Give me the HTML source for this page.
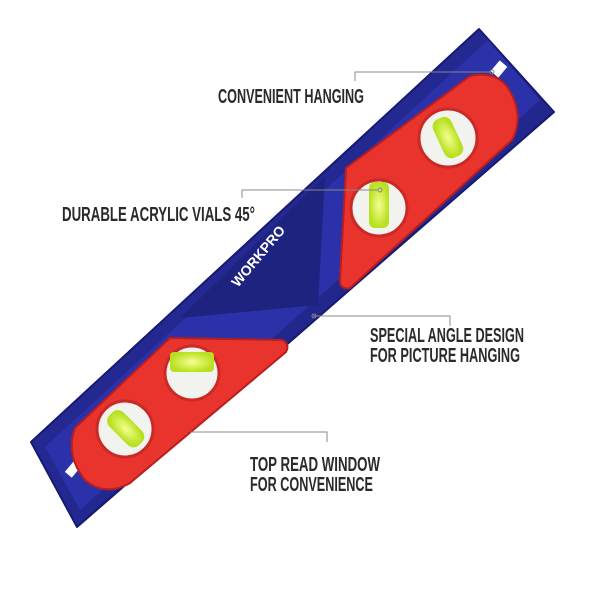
<!DOCTYPE html>
<html><head><style>body{margin:0;background:#fff}svg{display:block}</style></head><body>
<svg width="600" height="600" viewBox="0 0 600 600" xmlns="http://www.w3.org/2000/svg">
<defs>
<linearGradient id="bl" x1="0" y1="0" x2="1" y2="1"><stop offset="0" stop-color="#2a2fa0"/><stop offset="1" stop-color="#1c2180"/></linearGradient>
<radialGradient id="vg" cx="0.5" cy="0.5" r="0.5"><stop offset="0" stop-color="#f4ff90"/><stop offset="1" stop-color="#b8e020"/></radialGradient>
</defs>
<polygon points="479,29 554,112 77,527 31,442" fill="url(#bl)" stroke="#161a70" stroke-width="2" stroke-linejoin="round"/>
<polygon points="488,40 540,100 80,510 45,447" fill="#2b31a8"/>
<polygon points="325,176 318,305 180,318" fill="#1e2380"/>
<rect x="492" y="64" width="14" height="10" fill="#fff" transform="rotate(-50 499 69)"/>
<rect x="64" y="462" width="22" height="9" fill="#fff" transform="rotate(-50 75 466)"/>
<path d="M346,168 L470,76 Q495,70 508,88 Q525,115 512,140 L350,288 Q340,290 340,280 Z" fill="#e8342c" stroke="#b81e1e" stroke-width="2" stroke-linejoin="round"/>
<path d="M170,338 L283,340 Q290,345 286,352 L130,483 Q105,497 85,480 Q65,455 75,428 Z" fill="#e8342c" stroke="#b81e1e" stroke-width="2" stroke-linejoin="round"/>
<g stroke="#c92a25" stroke-width="3">
<circle cx="448" cy="138" r="29" fill="#f2f2ee"/>
<circle cx="379" cy="208" r="28" fill="#f2f2ee"/>
<circle cx="192" cy="373" r="27" fill="#f2f2ee"/>
<circle cx="125" cy="429" r="28" fill="#f2f2ee"/>
</g>
<rect x="438" y="117" width="20" height="42" rx="8" fill="url(#vg)" transform="rotate(-25 447 138)"/>
<rect x="369" y="182" width="20" height="46" rx="6" fill="url(#vg)"/>
<rect x="170" y="352" width="44" height="20" rx="4" fill="url(#vg)"/>
<rect x="115" y="408" width="20" height="42" rx="8" fill="url(#vg)" transform="rotate(-45 125 428)"/>
<text x="258" y="261" fill="#fff" font-family="Liberation Sans, sans-serif" font-weight="bold" font-size="14" text-anchor="middle" transform="rotate(-50 258 256)">WORKPRO</text>
<g stroke="#888" stroke-width="1" fill="none">
<polyline points="355,81 355,72 490,72"/><circle cx="492" cy="72" r="2"/>
<polyline points="242,198 242,190 378,190"/><circle cx="380" cy="190" r="2"/>
<polyline points="313,316 450,316 450,326"/><circle cx="314" cy="316" r="2"/>
<polyline points="190,432 327,432 327,442"/>
</g>
<g font-family="Liberation Sans Narrow, Liberation Sans, sans-serif" font-weight="bold" font-size="20" fill="#2a2a2a">
<text x="218" y="103" textLength="146" lengthAdjust="spacingAndGlyphs">CONVENIENT HANGING</text>
<text x="62" y="221" textLength="193" lengthAdjust="spacingAndGlyphs">DURABLE ACRYLIC VIALS 45°</text>
<text x="370" y="342" textLength="154" lengthAdjust="spacingAndGlyphs">SPECIAL ANGLE DESIGN</text>
<text x="370" y="362" textLength="150" lengthAdjust="spacingAndGlyphs">FOR PICTURE HANGING</text>
<text x="250" y="471" textLength="130" lengthAdjust="spacingAndGlyphs">TOP READ WINDOW</text>
<text x="250" y="491" textLength="123" lengthAdjust="spacingAndGlyphs">FOR CONVENIENCE</text>
</g>
</svg>
</body></html>
